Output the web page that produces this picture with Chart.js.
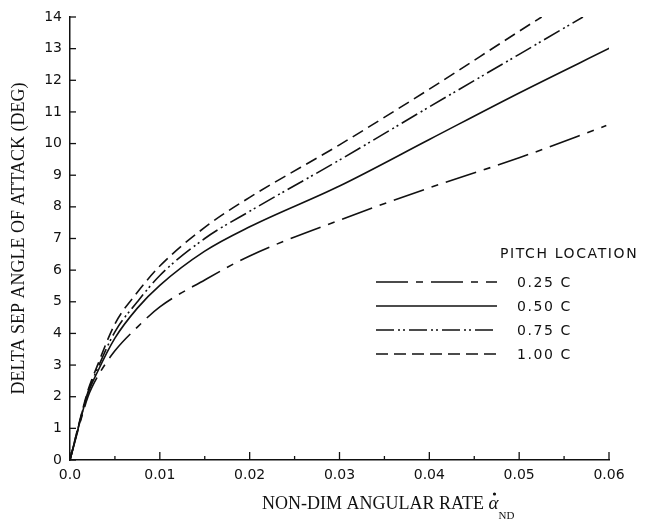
<!DOCTYPE html>
<html lang="en">
<head>
<meta charset="UTF-8">
<title>Delta sep angle of attack vs non-dim angular rate</title>
<script src="https://cdn.jsdelivr.net/npm/chart.js"></script>
<style>
  body { margin: 0; background: #fff; }
  #wrap { width: 645px; height: 520px; }
</style>
</head>
<body>
<div id="wrap"><canvas id="sepChart" width="645" height="520"></canvas></div>
<script>
// legend labels (pitch location)
const seriesLabels = ['0.25 C', '0.50 C', '0.75 C', '1.00 C'];

// values, one pair of arrays per curve
const rate025 = [0, 0.001, 0.002, 0.003, 0.005, 0.0075, 0.01, 0.015, 0.02, 0.03, 0.04, 0.05, 0.0597];
const angle025 = [0, 1.05, 2.0, 2.6, 3.45, 4.2, 4.84, 5.69, 6.45, 7.58, 8.6, 9.55, 10.57];

const rate050 = [0, 0.001, 0.002, 0.003, 0.005, 0.0075, 0.01, 0.015, 0.02, 0.03, 0.04, 0.05, 0.0601];
const angle050 = [0, 1.1, 2.1, 2.75, 3.85, 4.8, 5.52, 6.6, 7.37, 8.66, 10.13, 11.6, 13.02];

const rate075 = [0, 0.001, 0.002, 0.003, 0.005, 0.0075, 0.01, 0.015, 0.02, 0.03, 0.04, 0.05, 0.0571];
const angle075 = [0, 1.12, 2.15, 2.85, 4.05, 5.0, 5.83, 7.0, 7.86, 9.48, 11.16, 12.82, 14.0];

const rate100 = [0, 0.001, 0.002, 0.003, 0.005, 0.0075, 0.01, 0.015, 0.02, 0.03, 0.04, 0.05, 0.0525];
const angle100 = [0, 1.15, 2.2, 2.95, 4.3, 5.3, 6.13, 7.35, 8.3, 9.96, 11.72, 13.55, 14.0];

// axis ticks
const xTickStep = 0.01;
const yTickStep = 1;

const ink = '#111';
const tickFont = { family: '"DejaVu Sans", sans-serif', size: 14 };

function pts(xs, ys) {
    return xs.map((x, i) => ({ x: x, y: ys[i] }));
}

const datasets = [
    { label: seriesLabels[0], data: pts(rate025, angle025), borderDash: [32, 8, 7, 8] },
    { label: seriesLabels[1], data: pts(rate050, angle050), borderDash: [] },
    { label: seriesLabels[2], data: pts(rate075, angle075), borderDash: [18, 4, 2, 3, 2, 4] },
    { label: seriesLabels[3], data: pts(rate100, angle100), borderDash: [12, 6] }
].map(d => Object.assign(d, {
    borderColor: ink,
    borderWidth: 1.6,
    pointRadius: 0,
    fill: false,
    cubicInterpolationMode: 'monotone'
}));

// inward tick marks, in-plot legend and the x title with its subscript
const decorPlugin = {
    id: 'decor',
    afterDraw(chart) {
        const { ctx, scales: { x, y } } = chart;
        const bottom = chart.chartArea.bottom;
        const left = chart.chartArea.left;
        ctx.save();
        ctx.strokeStyle = ink;
        ctx.lineWidth = 1.3;

        // x ticks: majors from the scale, minors halfway between
        x.ticks.forEach((t, i) => {
            const px = x.getPixelForValue(t.value);
            ctx.beginPath();
            ctx.moveTo(px, bottom);
            ctx.lineTo(px, bottom - 8);
            ctx.stroke();
            if (i < x.ticks.length - 1) {
                const mx = x.getPixelForValue(t.value + xTickStep / 2);
                ctx.beginPath();
                ctx.moveTo(mx, bottom);
                ctx.lineTo(mx, bottom - 4);
                ctx.stroke();
            }
        });
        // y ticks
        y.ticks.forEach(t => {
            const py = y.getPixelForValue(t.value);
            ctx.beginPath();
            ctx.moveTo(left, py);
            ctx.lineTo(left + 6, py);
            ctx.stroke();
        });

        // legend
        ctx.fillStyle = ink;
        ctx.font = '14px "DejaVu Sans", sans-serif';
        ctx.letterSpacing = '1.6px';
        ctx.textBaseline = 'middle';
        ctx.textAlign = 'left';
        ctx.fillText('PITCH LOCATION', 500, 254);
        const rowY = [282, 306, 330, 354];
        chart.data.datasets.forEach((ds, i) => {
            ctx.setLineDash(ds.borderDash);
            ctx.lineWidth = ds.borderWidth;
            ctx.beginPath();
            ctx.moveTo(376, rowY[i]);
            ctx.lineTo(497, rowY[i]);
            ctx.stroke();
            ctx.fillText(ds.label, 517, rowY[i] + 1);
        });
        ctx.setLineDash([]);
        ctx.letterSpacing = '0px';

        // x axis title: NON-DIM ANGULAR RATE alpha-dot sub ND
        ctx.textBaseline = 'alphabetic';
        ctx.font = '18px "Liberation Serif", serif';
        const main = 'NON-DIM ANGULAR RATE ';
        const x0 = 262;
        ctx.fillText(main, x0, 509);
        let ax = x0 + ctx.measureText(main).width;
        ctx.font = 'italic 19px "Liberation Serif", serif';
        ctx.fillText('\u03b1', ax, 509);
        const aw = ctx.measureText('\u03b1').width;
        ctx.beginPath();
        ctx.arc(ax + aw / 2 + 1, 494, 1.6, 0, Math.PI * 2);
        ctx.fill();
        ctx.font = '11px "Liberation Serif", serif';
        ctx.fillText('ND', ax + aw, 519);
        ctx.restore();
    }
};

const ctx = document.getElementById('sepChart').getContext('2d');
const sepChart = new Chart(ctx, {
    type: 'line',
    data: { datasets: datasets },
    plugins: [decorPlugin],
    options: {
        responsive: false,
        animation: false,
        layout: { padding: { top: 17, right: 36, left: 0, bottom: 0 } },
        plugins: { legend: { display: false }, tooltip: { enabled: false } },
        scales: {
            x: {
                type: 'linear',
                min: 0,
                max: 0.06,
                grid: { display: false, drawTicks: false },
                border: { display: true, color: ink, width: 1.5 },
                ticks: {
                    stepSize: xTickStep,
                    color: ink,
                    font: tickFont,
                    padding: 7,
                    maxRotation: 0,
                    callback: v => v === 0 ? '0.0' : v.toFixed(2)
                },
                afterFit: s => { s.height = 60; }
            },
            y: {
                min: 0,
                max: 14,
                grid: { display: false, drawTicks: false },
                border: { display: true, color: ink, width: 1.5 },
                ticks: {
                    stepSize: yTickStep,
                    color: ink,
                    font: tickFont,
                    padding: 8
                },
                title: {
                    display: true,
                    text: 'DELTA SEP ANGLE OF ATTACK (DEG)',
                    color: ink,
                    font: { family: '"Liberation Serif", serif', size: 18 },
                    padding: { top: 8, bottom: 0 }
                },
                afterFit: s => { s.width = 70; }
            }
        }
    }
});
</script>
</body>
</html>
